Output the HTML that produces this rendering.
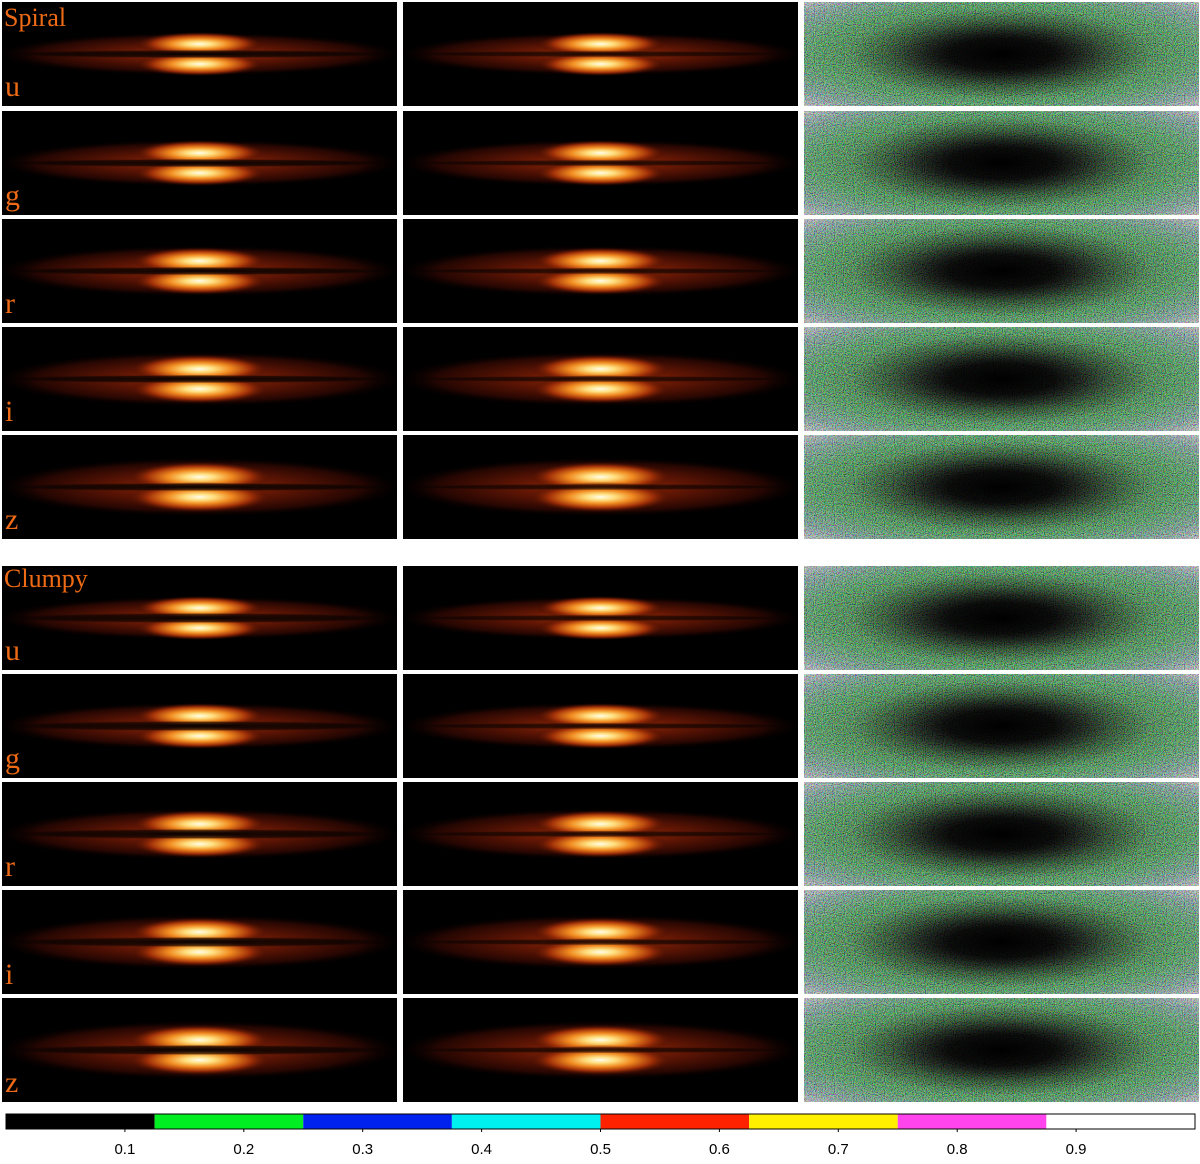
<!DOCTYPE html>
<html><head><meta charset="utf-8">
<style>
body{margin:0;background:#fff;width:1200px;height:1164px;overflow:hidden;font-family:"Liberation Sans",sans-serif;}
#fig{position:absolute;left:0;top:0;}
.lbl{position:absolute;color:#ee6a14;font-family:"Liberation Serif",serif;line-height:1;}
</style></head>
<body>
<svg id="fig" width="1200" height="1164">
<defs>
<radialGradient id="halo" cx="0.5" cy="0.5" r="0.5"><stop offset="0" stop-color="#a02c06"/><stop offset="0.45" stop-color="#5a1404"/><stop offset="0.8" stop-color="#250602"/><stop offset="1" stop-color="#000" stop-opacity="0"/></radialGradient>
<radialGradient id="bulge" cx="0.5" cy="0.5" r="0.5"><stop offset="0" stop-color="#fffcec"/><stop offset="0.2" stop-color="#ffe080"/><stop offset="0.45" stop-color="#f08a20"/><stop offset="0.72" stop-color="#a03008"/><stop offset="1" stop-color="#400a00" stop-opacity="0"/></radialGradient>
<radialGradient id="lane" cx="0.5" cy="0.5" r="0.5"><stop offset="0" stop-color="#000" stop-opacity="0.95"/><stop offset="0.75" stop-color="#000" stop-opacity="0.6"/><stop offset="1" stop-color="#000" stop-opacity="0"/></radialGradient>
<radialGradient id="noiseBg" cx="0.5" cy="0.5" r="0.72"><stop offset="0" stop-color="#000"/><stop offset="0.2" stop-color="#020c03"/><stop offset="0.42" stop-color="#12601a"/><stop offset="0.65" stop-color="#2a9040"/><stop offset="0.85" stop-color="#6a9a90"/><stop offset="1" stop-color="#c8c4cc"/></radialGradient>
<radialGradient id="darkCore" cx="0.5" cy="0.5" r="0.5"><stop offset="0" stop-color="#000" stop-opacity="1"/><stop offset="0.35" stop-color="#000" stop-opacity="0.85"/><stop offset="0.7" stop-color="#000" stop-opacity="0.3"/><stop offset="1" stop-color="#000" stop-opacity="0"/></radialGradient>
<filter id="noise" x="0" y="0" width="1" height="1"><feTurbulence type="fractalNoise" baseFrequency="0.9" numOctaves="1" seed="3"/><feColorMatrix type="matrix" values="4 0 0 0 -1.5  0 4 0 0 -1.5  0 0 4 0 -1.5  0 0 0 0 0.6"/></filter>
</defs>
<g id="panels"></g>
<g id="cbar"></g>
</svg>
<div class="lbl" style="left:4px;top:5px;font-size:26px">Spiral</div>
<div class="lbl" style="left:4px;top:566px;font-size:26px">Clumpy</div>
<script>
const rowsTop=[2,111,219,327,435];
const rowsBot=[566,674,782,890,998];
const bands=['u','g','r','i','z'];
const colX=[2,403,804];
const colW=395, rowH=104;
const cbColors=['#000000','#00ee22','#0022ee','#00f0f0','#ff2200','#fff000','#ff44ee','#ffffff'];
const cbTicks=[0.1,0.2,0.3,0.4,0.5,0.6,0.7,0.8,0.9];
const NS='http://www.w3.org/2000/svg';
const P=document.getElementById('panels');
const D=document.querySelector('defs');
let clipN=0;
function mk(t,a,par){const e=document.createElementNS(NS,t);for(const k in a)e.setAttribute(k,a[k]);(par||P).appendChild(e);return e;}
function clipFor(x,y){const id='cp'+(clipN++);const cp=mk('clipPath',{id:id},D);mk('rect',{x:x,y:y,width:colW,height:rowH},cp);return 'url(#'+id+')';}
function galaxy(x,y,col,clumpy,bi){
  const g=mk('g',{'clip-path':clipFor(x,y)});
  
  
  mk('rect',{x:x,y:y,width:colW,height:rowH,fill:'#000'},g);
  const cx=x+colW/2, cy=y+rowH/2;
  mk('ellipse',{cx:cx,cy:cy,rx:205,ry:22+bi*2,fill:'url(#halo)'},g);
  const rx=64+bi*2, ry=12+bi*0.8;
  mk('ellipse',{cx:cx,cy:cy-10,rx:rx,ry:ry,fill:'url(#bulge)'},g);
  mk('ellipse',{cx:cx,cy:cy+10,rx:rx,ry:ry,fill:'url(#bulge)'},g);
  const lw=clumpy&&col==0?5:(col==0?4:3);
  mk('ellipse',{cx:cx,cy:cy,rx:200,ry:lw,fill:'url(#lane)',opacity:col==0?1:0.8},g);
}
function resid(x,y){
  const g=mk('g',{'clip-path':clipFor(x,y)});
  
  
  mk('rect',{x:x,y:y,width:colW,height:rowH,fill:'url(#noiseBg)'},g);
  mk('rect',{x:x,y:y,width:colW,height:rowH,filter:'url(#noise)',opacity:0.7},g);
  mk('ellipse',{cx:x+colW/2,cy:y+rowH/2,rx:150,ry:45,fill:'url(#darkCore)'},g);
}
[[rowsTop,false],[rowsBot,true]].forEach(([rows,cl])=>{
  rows.forEach((y,i)=>{
    galaxy(colX[0],y,0,cl,i);
    galaxy(colX[1],y,1,cl,i);
    resid(colX[2],y);
    const d=document.createElement('div');
    d.className='lbl';
    d.style.left='5px';d.style.top=(y+rowH-34)+'px';d.style.fontSize='30px';
    d.textContent=bands[i];
    
    
    document.body.appendChild(d);
  });
});
const C=document.getElementById('cbar');
const cb0=6, cb1=1195, cbY=1114, cbH=15;
function xv(v){return cb0+v*(cb1-cb0);}
cbColors.forEach((c,i)=>{
  const r=mk('rect',{x:xv(i/cbColors.length),y:cbY,width:xv((i+1)/cbColors.length)-xv(i/cbColors.length),height:cbH,fill:c},C);
  
  
});
const fr=mk('rect',{x:cb0,y:cbY,width:cb1-cb0,height:cbH,fill:'none',stroke:'#000','stroke-width':1},C);


cbTicks.forEach(v=>{
  mk('line',{x1:xv(v),x2:xv(v),y1:cbY+cbH,y2:cbY+cbH+3,stroke:'#000'},C);
  const t=mk('text',{x:xv(v),y:1154,'text-anchor':'middle','font-size':15,'font-family':'Liberation Sans, sans-serif',fill:'#000'},C);
  t.textContent=v.toFixed(1);
  
  
});
</script>
</body></html>
